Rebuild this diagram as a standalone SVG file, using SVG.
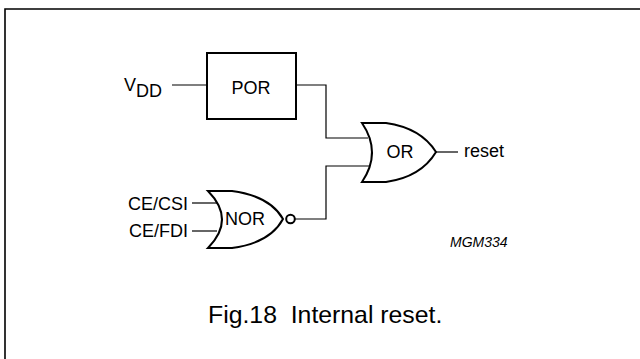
<svg xmlns="http://www.w3.org/2000/svg" width="640" height="359" viewBox="0 0 640 359">
<style>
text{font-family:"Liberation Sans",Arial,sans-serif;fill:#000}
.lbl{font-size:18px}
.w{fill:none;stroke:#000;stroke-width:1.2}
.g{fill:#fff;stroke:#000;stroke-width:2}
</style>
<rect width="640" height="359" fill="#fff"/>
<path d="M5,359 V9 H640" fill="none" stroke="#000" stroke-width="1.6"/>
<g id="connectors">
<path class="w" d="M172,85 H207"/>
<path class="w" d="M296,85 H326 V138 H368"/>
<path class="w" d="M295,219 H326 V166 H369"/>
<path class="w" d="M192,203 H217"/>
<path class="w" d="M192,231 H217"/>
<path class="w" d="M436,152 H458"/>
</g>
<g id="vdd">
<text class="lbl" x="124" y="91">V</text><text class="lbl" x="136" y="97">DD</text>
</g>
<g id="por">
<rect class="g" x="207" y="53" width="89" height="66"/>
<text class="lbl" x="251" y="94" text-anchor="middle">POR</text>
</g>
<g id="or">
<path class="g" d="M362,123 L386,123 Q421,128 436,152 Q421,177 386,182 L362,182 Q382,152.5 362,123 Z"/>
<text class="lbl" x="400" y="158" text-anchor="middle">OR</text>
</g>
<g id="nor">
<path class="g" d="M208,191 L232,191 Q270,196 283,219 Q270,243 232,248 L208,248 Q236,219.5 208,191 Z"/>
<circle class="g" cx="290.5" cy="219" r="4.3" stroke-width="1.8"/>
<text class="lbl" x="245" y="225" text-anchor="middle">NOR</text>
</g>
<g id="reset">
<text class="lbl" x="464" y="157">reset</text>
</g>
<g id="ce-csi">
<text class="lbl" x="188" y="210" text-anchor="end">CE/CSI</text>
</g>
<g id="ce-fdi">
<text class="lbl" x="188" y="237" text-anchor="end">CE/FDI</text>
</g>
<text x="450" y="247" font-size="14" font-style="italic">MGM334</text>
<text x="208" y="323" font-size="24.8" xml:space="preserve" style="white-space:pre">Fig.18  Internal reset.</text>
</svg>
